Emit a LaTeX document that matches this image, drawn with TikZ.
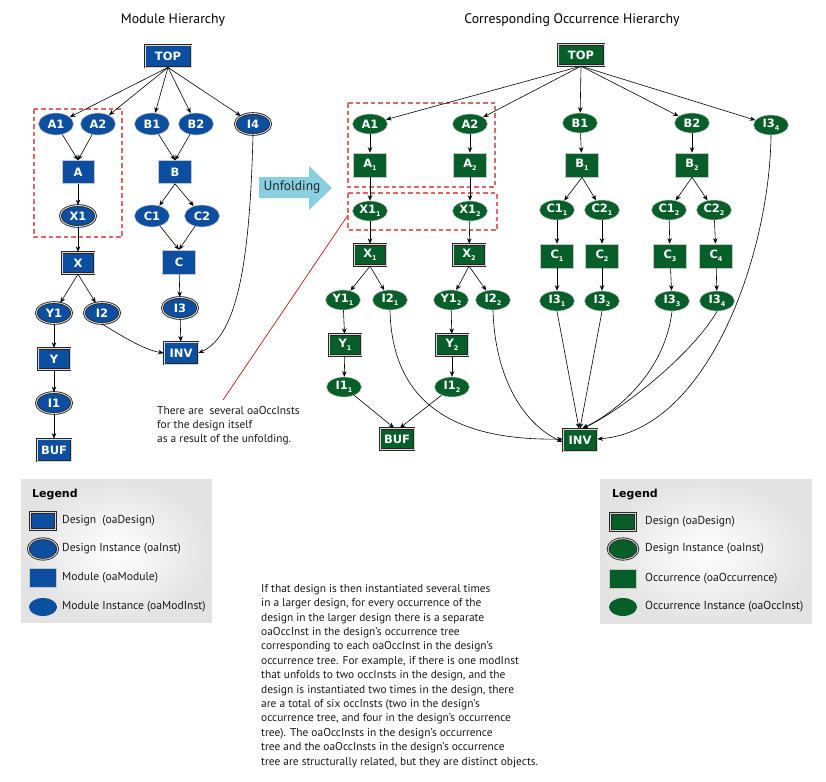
\documentclass[tikz,border=0pt]{standalone}
\usepackage{fontspec}
\setmainfont{PT Sans}
\newfontfamily\lblfont{DejaVu Sans}
\usetikzlibrary{shapes.geometric,arrows.meta}
\definecolor{mblue}{RGB}{12,78,160}
\definecolor{ogreen}{RGB}{6,94,40}
\definecolor{dred}{RGB}{224,104,104}
\definecolor{ared}{RGB}{204,20,20}
\definecolor{ucyan}{RGB}{136,208,224}
\newcommand\sbs[1]{\raisebox{-0.45ex}{\fontsize{6.5bp}{6.5bp}\selectfont #1}}
\tikzset{
  lbl/.style={font=\lblfont\bfseries\fontsize{11.5bp}{11.5bp}\selectfont, text=white, inner sep=0pt},
  modrect/.style={lbl, rectangle, fill=mblue, draw=gray!45, line width=0.6bp, minimum width=32bp, minimum height=23bp},
  modell/.style={lbl, ellipse, fill=mblue, draw=gray!45, line width=0.6bp, minimum width=35bp, minimum height=22bp},
  desrect/.style={lbl, rectangle, fill=mblue, draw=black!85, double=gray!30, double distance=0.9bp, line width=0.85bp, minimum width=32bp, minimum height=21.5bp},
  desell/.style={lbl, ellipse, fill=mblue, draw=black!85, double=gray!30, double distance=0.9bp, line width=0.85bp, minimum width=35.5bp, minimum height=21bp},
  occrect/.style={modrect, fill=ogreen, minimum width=33bp, minimum height=24bp},
  occell/.style={modell, fill=ogreen, minimum width=35bp, minimum height=20bp},
  gdesrect/.style={desrect, fill=ogreen},
  gdesell/.style={desell, fill=ogreen},
  arr/.style={-{Stealth[length=5.5bp,width=4.5bp]}, line width=0.6bp, black},
  dbox/.style={draw=dred, dash pattern=on 4.5bp off 3bp, line width=1.2bp},
  txt/.style={font=\fontsize{11.4bp}{14.4bp}\selectfont, inner sep=0pt, align=left, text=black!90},
  legtxt/.style={font=\fontsize{11.6bp}{13bp}\selectfont, inner sep=0pt, anchor=west, text=black!90},
  legtitle/.style={font=\lblfont\bfseries\fontsize{11bp}{11bp}\selectfont, inner sep=0pt, anchor=west},
  ttl/.style={font=\fontsize{13.8bp}{15bp}\selectfont, inner sep=0pt}
}
\begin{document}
\begin{tikzpicture}[x=1bp,y=-1bp]
\useasboundingbox (0,0) rectangle (826,782);
% titles
\node[ttl] (t1) at (173,20) {Module Hierarchy};
\node[ttl] (t2) at (572,20) {Corresponding Occurrence Hierarchy};

% ---------------- left tree ----------------
\draw[dbox] (34,109) rectangle (122,237);
\node[desrect, minimum width=46bp, minimum height=22bp] (TOPl) at (168,56) {TOP};
\node[modell] (A1l) at (56,124) {A1};
\node[modell] (A2l) at (98,124) {A2};
\node[modell] (B1l) at (152,124) {B1};
\node[modell] (B2l) at (196,124) {B2};
\node[desell] (I4l) at (253,124) {I4};
\node[modrect] (Al) at (78,172) {A};
\node[modrect, minimum width=33bp] (Bl) at (175,172) {B};
\node[desell] (X1l) at (78,216) {X1};
\node[modell] (C1l) at (152,216) {C1};
\node[modell] (C2l) at (202,216) {C2};
\node[desrect] (Xl) at (78,263) {X};
\node[modrect, minimum width=33bp, minimum height=24bp] (Cl) at (179,262) {C};
\node[desell] (Y1l) at (54,313) {Y1};
\node[desell] (I2l) at (102,313) {I2};
\node[desell] (I3l) at (180,308) {I3};
\node[desrect, minimum width=34bp, minimum height=22bp] (INVl) at (181,353) {INV};
\node[desrect] (Yl) at (54,359) {Y};
\node[desell] (I1l) at (54,403) {I1};
\node[desrect, minimum width=34bp, minimum height=22bp] (BUFl) at (54,450) {BUF};

\foreach \n in {A1l,A2l,B1l,B2l,I4l} \draw[arr] (TOPl.south) -- (\n);
\draw[arr] (A1l) -- (Al.north);
\draw[arr] (A2l) -- (Al.north);
\draw[arr] (B1l) -- (Bl.north);
\draw[arr] (B2l) -- (Bl.north);
\draw[arr] (Al) -- (X1l);
\draw[arr] (X1l) -- (Xl);
\draw[arr] (Bl.south) -- (C1l);
\draw[arr] (Bl.south) -- (C2l);
\draw[arr] (C1l) -- (Cl.north);
\draw[arr] (C2l) -- (Cl.north);
\draw[arr] (Cl) -- (I3l);
\draw[arr] (I3l) -- (INVl);
\draw[arr] (Xl.south) -- (Y1l);
\draw[arr] (Xl.south) -- (I2l);
\draw[arr] (Y1l) -- (Yl);
\draw[arr] (Yl) -- (I1l);
\draw[arr] (I1l) -- (BUFl);
\draw[arr] (I2l.south) .. controls (125,338) and (145,350) .. (INVl.west);
\draw[arr] (I4l.south) .. controls (250,250) and (240,335) .. (INVl.east);

% unfolding arrow
\fill[ucyan] (259,177) -- (309,177) -- (309,166) -- (332,188) -- (309,210) -- (309,198) -- (259,198) -- cycle;
\node[font=\fontsize{13.4bp}{15bp}\selectfont, inner sep=0pt, text=black!85] (unf) at (292,187.5) {Unfolding};

% annotation
\coordinate (annA) at (223,400);
\coordinate (annB) at (348,215);
\draw[ared, line width=0.7bp] (annA) -- (annB);
\node[txt, anchor=north west, font=\fontsize{11.4bp}{14bp}\selectfont] (ann) at (157,406) {There are\ \ several oaOccInsts\\for the design itself\\as a result of the unfolding.};

% ---------------- right tree ----------------
\draw[dbox] (348,103) rectangle (495,187);
\draw[dbox] (348,193) rectangle (497,230);
\node[gdesrect, minimum width=46bp, minimum height=21.5bp] (TOPr) at (581,55) {TOP};
\node[occell] (A1r) at (370,124) {A1};
\node[occell] (A2r) at (470,124) {A2};
\node[occell] (B1r) at (580,123) {B1};
\node[occell] (B2r) at (692,123) {B2};
\node[occell] (I34t) at (771,125) {I3\sbs{4}};
\node[occrect] (A1s) at (370,165) {A\sbs{1}};
\node[occrect] (A2s) at (470,165) {A\sbs{2}};
\node[occrect] (B1s) at (582,165) {B\sbs{1}};
\node[occrect] (B2s) at (692,165) {B\sbs{2}};
\node[occell] (X11) at (370,211) {X1\sbs{1}};
\node[occell] (X12) at (470,211) {X1\sbs{2}};
\node[occell] (C11) at (557,210) {C1\sbs{1}};
\node[occell] (C21) at (602,210) {C2\sbs{1}};
\node[occell] (C12) at (669,210) {C1\sbs{2}};
\node[occell] (C22) at (714,210) {C2\sbs{2}};
\node[gdesrect] (Xs1) at (370,255) {X\sbs{1}};
\node[gdesrect] (Xs2) at (469,255) {X\sbs{2}};
\node[occrect] (Cs1) at (557,256) {C\sbs{1}};
\node[occrect] (Cs2) at (602,256) {C\sbs{2}};
\node[occrect] (Cs3) at (670,256) {C\sbs{3}};
\node[occrect] (Cs4) at (716,256) {C\sbs{4}};
\node[occell] (Y11) at (343,300) {Y1\sbs{1}};
\node[occell] (I21) at (390,300) {I2\sbs{1}};
\node[occell] (Y12) at (451,300) {Y1\sbs{2}};
\node[occell] (I22) at (493,300) {I2\sbs{2}};
\node[occell] (I31) at (557,301) {I3\sbs{1}};
\node[occell] (I32) at (602,301) {I3\sbs{2}};
\node[occell] (I33) at (672,301) {I3\sbs{3}};
\node[occell] (I34) at (717,301) {I3\sbs{4}};
\node[gdesrect] (Ys1) at (345,345) {Y\sbs{1}};
\node[gdesrect] (Ys2) at (452,345) {Y\sbs{2}};
\node[occell] (I11) at (344,387) {I1\sbs{1}};
\node[occell] (I12) at (452,387) {I1\sbs{2}};
\node[gdesrect, minimum width=34bp, minimum height=21.5bp] (BUFr) at (397,439) {BUF};
\node[gdesrect, minimum width=34bp, minimum height=22bp] (INVr) at (580,440) {INV};

\foreach \n in {A1r,A2r,B1r,B2r,I34t} \draw[arr] (TOPr.south) -- (\n);
\draw[arr] (A1r) -- (A1s);
\draw[arr] (A2r) -- (A2s);
\draw[arr] (A1s) -- (X11);
\draw[arr] (A2s) -- (X12);
\draw[arr] (X11) -- (Xs1);
\draw[arr] (X12) -- (Xs2);
\draw[arr] (B1r) -- (B1s);
\draw[arr] (B2r) -- (B2s);
\draw[arr] (B1s.south) -- (C11);
\draw[arr] (B1s.south) -- (C21);
\draw[arr] (B2s.south) -- (C12);
\draw[arr] (B2s.south) -- (C22);
\draw[arr] (C11) -- (Cs1);
\draw[arr] (C21) -- (Cs2);
\draw[arr] (C12) -- (Cs3);
\draw[arr] (C22) -- (Cs4);
\draw[arr] (Cs1) -- (I31);
\draw[arr] (Cs2) -- (I32);
\draw[arr] (Cs3) -- (I33);
\draw[arr] (Cs4) -- (I34);
\draw[arr] (Xs1.south) -- (Y11);
\draw[arr] (Xs1.south) -- (I21);
\draw[arr] (Xs2.south) -- (Y12);
\draw[arr] (Xs2.south) -- (I22);
\draw[arr] (Y11) -- (Ys1);
\draw[arr] (Y12) -- (Ys2);
\draw[arr] (Ys1) -- (I11);
\draw[arr] (Ys2) -- (I12);
\draw[arr] (I11) -- ([xshift=-3bp]BUFr.north);
\draw[arr] (I12) -- ([xshift=3bp]BUFr.north);
\draw[arr] (I21.south) .. controls (392,400) and (450,441) .. ([yshift=1bp]INVr.west);
\draw[arr] (I22.south) .. controls (495,380) and (525,425) .. ([yshift=-2bp]INVr.west);
\draw[arr] (I31.south) -- ([xshift=-1bp]INVr.north);
\draw[arr] (I32.south) -- ([xshift=0bp]INVr.north);
\draw[arr] (I33.south) .. controls (665,370) and (620,410) .. ([xshift=2bp]INVr.north);
\draw[arr] (I34.south) .. controls (695,350) and (630,405) .. ([xshift=3bp]INVr.north);
\draw[arr] (I34t.south) .. controls (770,250) and (710,430) .. ([yshift=1bp]INVr.east);

% ---------------- legends ----------------
\shade[inner color=white, outer color=gray!22] (21,479) rectangle (212,622);
\node[legtitle] (lgt) at (32,495) {Legend};
\node[desrect, minimum width=25.5bp, minimum height=17.5bp] (lg1) at (43,521) {};
\node[desell, minimum width=29.5bp, minimum height=20.5bp] (lg2) at (43,549) {};
\node[modrect, minimum width=27bp, minimum height=19bp] (lg3) at (43,578) {};
\node[modell, minimum width=28bp, minimum height=18bp, draw=none] (lg4) at (43,607) {};
\node[legtxt] (lt1) at (62,521) {Design\ \ (oaDesign)};
\node[legtxt] (lt2) at (62,549) {Design Instance (oaInst)};
\node[legtxt] (lt3) at (62,578) {Module (oaModule)};
\node[legtxt] (lt4) at (62,607) {Module Instance (oaModInst)};

\shade[inner color=white, outer color=gray!22] (600,479) rectangle (812,623);
\node[legtitle] (rgt) at (612,495) {Legend};
\node[gdesrect, minimum width=25.5bp, minimum height=17.5bp] (rg1) at (623,522) {};
\node[gdesell, minimum width=30bp, minimum height=20.5bp] (rg2) at (623,549) {};
\node[occrect, minimum width=27bp, minimum height=19bp] (rg3) at (623,579) {};
\node[occell, minimum width=28bp, minimum height=18bp, draw=none] (rg4) at (623,607) {};
\node[legtxt] (rt1) at (645,522) {Design (oaDesign)};
\node[legtxt] (rt2) at (645,549) {Design Instance (oaInst)};
\node[legtxt] (rt3) at (645,579) {Occurrence (oaOccurrence)};
\node[legtxt] (rt4) at (645,607) {Occurrence Instance (oaOccInst)};

% ---------------- text block ----------------
\node[txt, anchor=north west] (para) at (261,584) {If that design is then instantiated several times\\
in a larger design, for every occurrence of the\\
design in the larger design there is a separate\\
oaOccInst in the design's occurrence tree\\
corresponding to each oaOccInst in the design's\\
occurrence tree. For example, if there is one modInst\\
that unfolds to two occInsts in the design, and the\\
design is instantiated two times in the design, there\\
are a total of six occInsts (two in the design's\\
occurrence tree, and four in the design's occurrence\\
tree). The oaOccInsts in the design's occurrence\\
tree and the oaOccInsts in the design's occurrence\\
tree are structurally related, but they are distinct objects.};
\end{tikzpicture}
\end{document}
